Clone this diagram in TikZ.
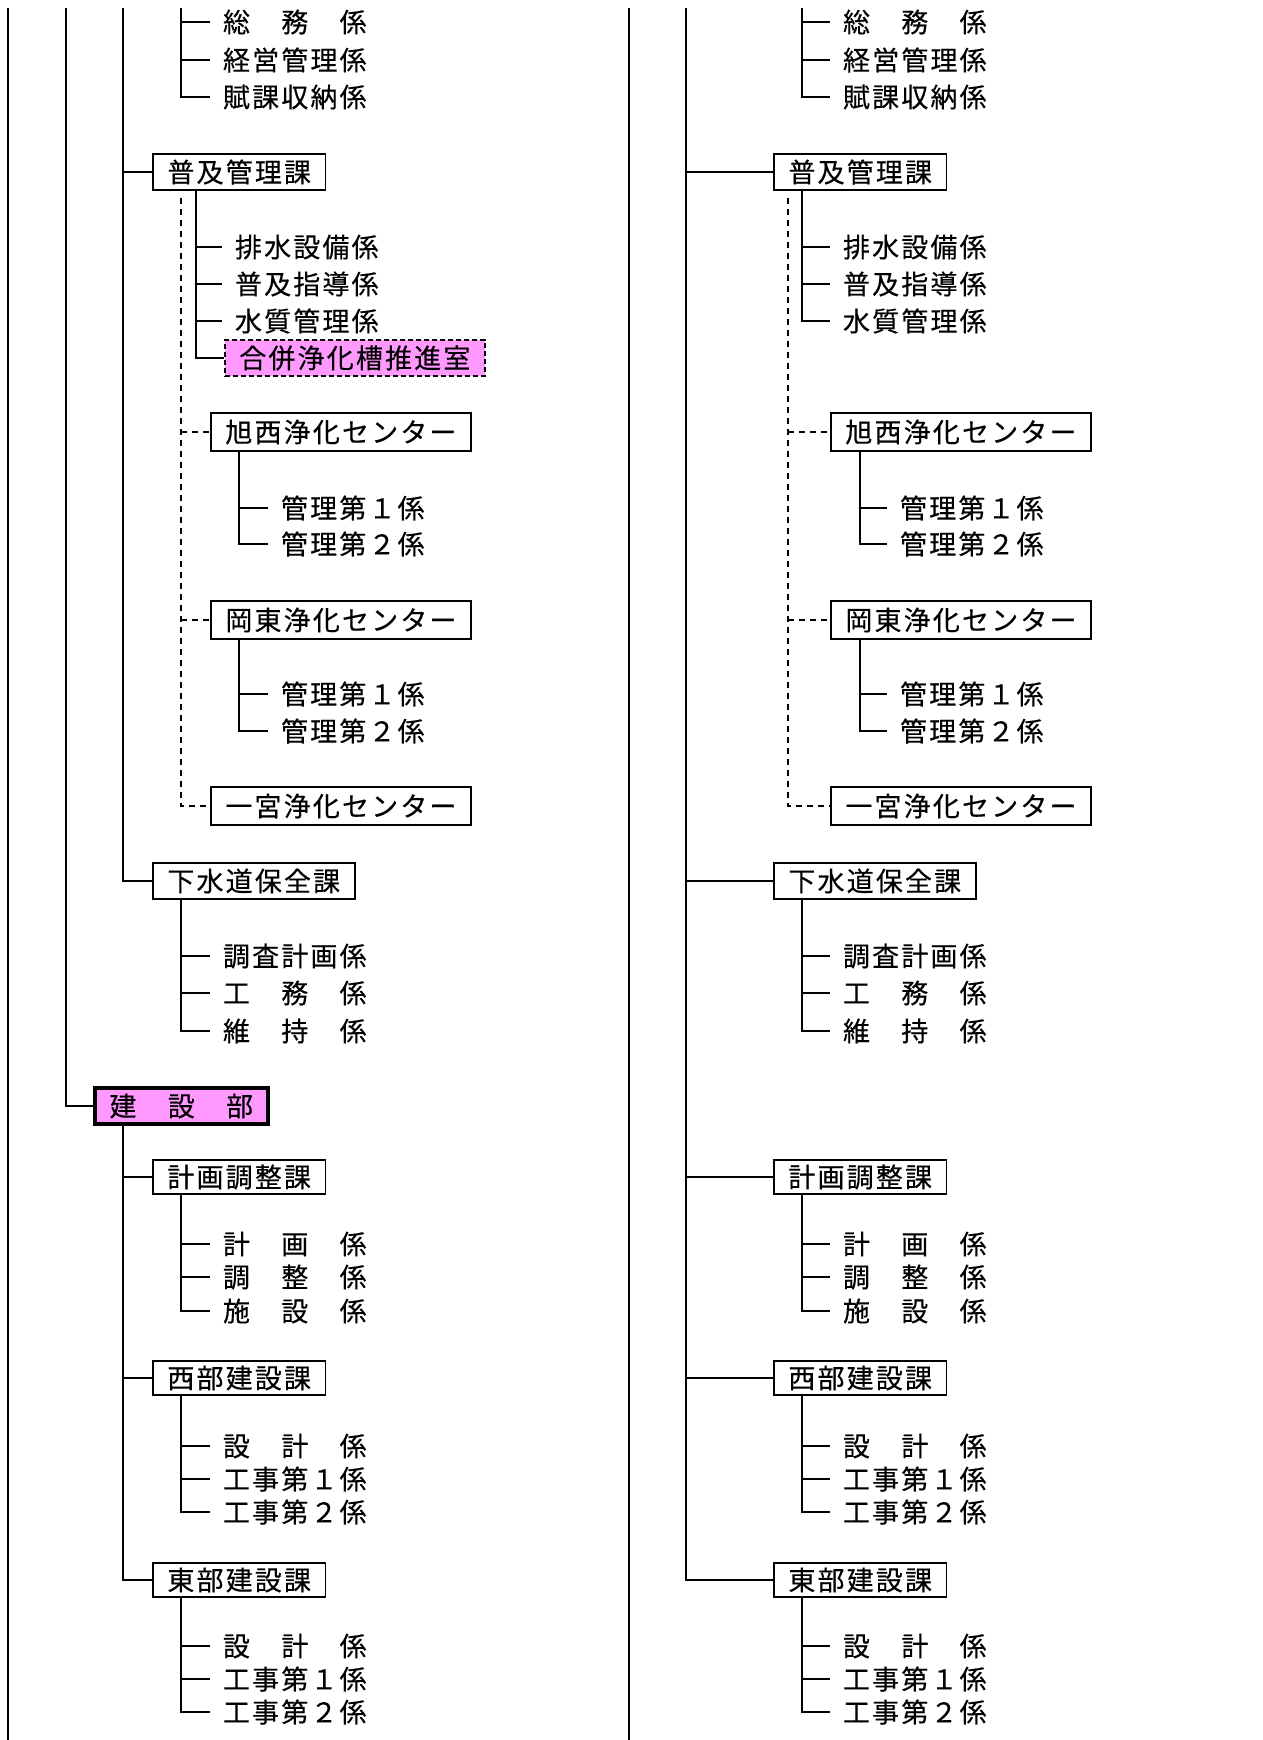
\documentclass[tikz,border=0pt]{standalone}
\usepackage{fontspec}
\newfontfamily\jp{Noto Sans CJK JP}[LetterSpace=8, FakeBold=0.3]

\definecolor{kenpink}{RGB}{255,153,255}

\begin{document}
\begin{tikzpicture}[
    x=1pt, y=-1pt,
    line width=2pt,
    jptext/.style={font=\jp\fontsize{27}{30}\selectfont},
    kabox/.style={rectangle, draw=black, line width=1.8pt, fill=white, anchor=west, inner xsep=14.5pt, inner ysep=0pt, minimum height=36pt, jptext},
    sentabox/.style={kabox, minimum height=38pt},
    bubox/.style={kabox, line width=4pt, fill=kenpink, minimum height=36pt},
    shitsubox/.style={kabox, fill=kenpink, line width=1.6pt, dash pattern=on 5pt off 3pt},
    kakari/.style={anchor=west, inner xsep=12pt, inner ysep=0pt, jptext},
    dline/.style={dash pattern=on 6pt off 5pt}
]
\useasboundingbox (0,0) rectangle (1262,1740);

% left trunks
\coordinate (LA) at (8,8);
\coordinate (LAend) at (8,1740);
\coordinate (LB) at (66,8);
\coordinate (LC) at (123,8);
\coordinate (Lg) at (181,8);
\coordinate (Lfv) at (196,8);
\coordinate (Lsv) at (239,8);

% left boxes
\node[kabox] (LfukyuKa) at (152,172) {普及管理課};
\node[shitsubox] (Lgappei) at (224,358) {合併浄化槽推進室};
\node[sentabox] (Lkyokusei) at (210,432) {旭西浄化センター};
\node[sentabox] (Lkoto) at (210,620) {岡東浄化センター};
\node[sentabox] (Lichinomiya) at (210,806) {一宮浄化センター};
\node[kabox] (LgesuiKa) at (152,881) {下水道保全課};
\node[bubox] (Lkensetsu) at (93,1106) {建　設　部};
\node[kabox, minimum height=34pt] (LkeikakuKa) at (152,1177) {計画調整課};
\node[kabox, minimum height=34pt] (LseibuKa) at (152,1378) {西部建設課};
\node[kabox, minimum height=34pt] (LtobuKa) at (152,1580) {東部建設課};

\draw (LA) -- (LAend);
\draw (LB) |- (Lkensetsu.west);
\draw (LC) |- (LgesuiKa.west);
\draw (LC |- LfukyuKa.west) -- (LfukyuKa.west);
\draw (Lkensetsu.south -| LC) |- (LtobuKa.west);
\draw (LC |- LkeikakuKa.west) -- (LkeikakuKa.west);
\draw (LC |- LseibuKa.west) -- (LseibuKa.west);

% left kakari
\foreach \t/\y [count=\i] in {総　務　係/22, 経営管理係/60, 賦課収納係/97} {
    \node[kakari] (LsomuK-\i) at (210,\y) {\t};
    \draw (Lg |- LsomuK-\i.west) -- (LsomuK-\i.west);
}
\draw (Lg) |- (LsomuK-3.west);

\foreach \t/\y [count=\i] in {排水設備係/247, 普及指導係/284, 水質管理係/321} {
    \node[kakari] (LfukyuKa-\i) at (222,\y) {\t};
    \draw (Lfv |- LfukyuKa-\i.west) -- (LfukyuKa-\i.west);
}
\draw (LfukyuKa.south -| Lfv) |- (Lgappei.west);

\draw[dline] ([yshift=-7pt]LfukyuKa.south -| Lg) |- (Lichinomiya.west);
\draw[dline] (Lg |- Lkyokusei.west) -- (Lkyokusei.west);
\draw[dline] (Lg |- Lkoto.west) -- (Lkoto.west);

\foreach \c/\ya/\yb in {Lkyokusei/508/544, Lkoto/694/731} {
    \node[kakari] (\c-1) at (268,\ya) {管理第１係};
    \node[kakari] (\c-2) at (268,\yb) {管理第２係};
    \draw (\c.south -| Lsv) |- (\c-2.west);
    \draw (Lsv |- \c-1.west) -- (\c-1.west);
}

\foreach \t/\y [count=\i] in {調査計画係/956, 工　務　係/993, 維　持　係/1031} {
    \node[kakari] (LgesuiKa-\i) at (210,\y) {\t};
    \draw (Lg |- LgesuiKa-\i.west) -- (LgesuiKa-\i.west);
}
\draw (LgesuiKa.south -| Lg) |- (LgesuiKa-3.west);

\foreach \t/\y [count=\i] in {計　画　係/1244, 調　整　係/1277, 施　設　係/1311} {
    \node[kakari] (LkeikakuKa-\i) at (210,\y) {\t};
    \draw (Lg |- LkeikakuKa-\i.west) -- (LkeikakuKa-\i.west);
}
\draw (LkeikakuKa.south -| Lg) |- (LkeikakuKa-3.west);

\foreach \k/\ya in {LseibuKa/1446, LtobuKa/1646} {
    \node[kakari] (\k-1) at (210,\ya) {設　計　係};
    \node[kakari] (\k-2) at (210,\ya+33) {工事第１係};
    \node[kakari] (\k-3) at (210,\ya+66) {工事第２係};
    \draw (\k.south -| Lg) |- (\k-3.west);
    \draw (Lg |- \k-1.west) -- (\k-1.west);
    \draw (Lg |- \k-2.west) -- (\k-2.west);
}

% right trunks
\coordinate (RA) at (629,8);
\coordinate (RAend) at (629,1740);
\coordinate (RB) at (686,8);
\coordinate (Rd) at (788,8);
\coordinate (Rg) at (802,8);
\coordinate (Rsv) at (860,8);

% right boxes
\node[kabox] (RfukyuKa) at (773,172) {普及管理課};
\node[sentabox] (Rkyokusei) at (830,432) {旭西浄化センター};
\node[sentabox] (Rkoto) at (830,620) {岡東浄化センター};
\node[sentabox] (Richinomiya) at (830,806) {一宮浄化センター};
\node[kabox] (RgesuiKa) at (773,881) {下水道保全課};
\node[kabox, minimum height=34pt] (RkeikakuKa) at (773,1177) {計画調整課};
\node[kabox, minimum height=34pt] (RseibuKa) at (773,1378) {西部建設課};
\node[kabox, minimum height=34pt] (RtobuKa) at (773,1580) {東部建設課};

\draw (RA) -- (RAend);
\draw (RB) |- (RtobuKa.west);
\foreach \n in {RfukyuKa, RgesuiKa, RkeikakuKa, RseibuKa}
    \draw (RB |- \n.west) -- (\n.west);

% right kakari
\foreach \t/\y [count=\i] in {総　務　係/22, 経営管理係/60, 賦課収納係/97} {
    \node[kakari] (RsomuK-\i) at (830,\y) {\t};
    \draw (Rg |- RsomuK-\i.west) -- (RsomuK-\i.west);
}
\draw (Rg) |- (RsomuK-3.west);

\foreach \t/\y [count=\i] in {排水設備係/247, 普及指導係/284, 水質管理係/321} {
    \node[kakari] (RfukyuKa-\i) at (830,\y) {\t};
    \draw (Rg |- RfukyuKa-\i.west) -- (RfukyuKa-\i.west);
}
\draw (RfukyuKa.south -| Rg) |- (RfukyuKa-3.west);

\draw[dline] ([yshift=-7pt]RfukyuKa.south -| Rd) |- (Richinomiya.west);
\draw[dline] (Rd |- Rkyokusei.west) -- (Rkyokusei.west);
\draw[dline] (Rd |- Rkoto.west) -- (Rkoto.west);

\foreach \c/\ya/\yb in {Rkyokusei/508/544, Rkoto/694/731} {
    \node[kakari] (\c-1) at (887,\ya) {管理第１係};
    \node[kakari] (\c-2) at (887,\yb) {管理第２係};
    \draw (\c.south -| Rsv) |- (\c-2.west);
    \draw (Rsv |- \c-1.west) -- (\c-1.west);
}

\foreach \t/\y [count=\i] in {調査計画係/956, 工　務　係/993, 維　持　係/1031} {
    \node[kakari] (RgesuiKa-\i) at (830,\y) {\t};
    \draw (Rg |- RgesuiKa-\i.west) -- (RgesuiKa-\i.west);
}
\draw (RgesuiKa.south -| Rg) |- (RgesuiKa-3.west);

\foreach \t/\y [count=\i] in {計　画　係/1244, 調　整　係/1277, 施　設　係/1311} {
    \node[kakari] (RkeikakuKa-\i) at (830,\y) {\t};
    \draw (Rg |- RkeikakuKa-\i.west) -- (RkeikakuKa-\i.west);
}
\draw (RkeikakuKa.south -| Rg) |- (RkeikakuKa-3.west);

\foreach \k/\ya in {RseibuKa/1446, RtobuKa/1646} {
    \node[kakari] (\k-1) at (830,\ya) {設　計　係};
    \node[kakari] (\k-2) at (830,\ya+33) {工事第１係};
    \node[kakari] (\k-3) at (830,\ya+66) {工事第２係};
    \draw (\k.south -| Rg) |- (\k-3.west);
    \draw (Rg |- \k-1.west) -- (\k-1.west);
    \draw (Rg |- \k-2.west) -- (\k-2.west);
}

\end{tikzpicture}
\end{document}
